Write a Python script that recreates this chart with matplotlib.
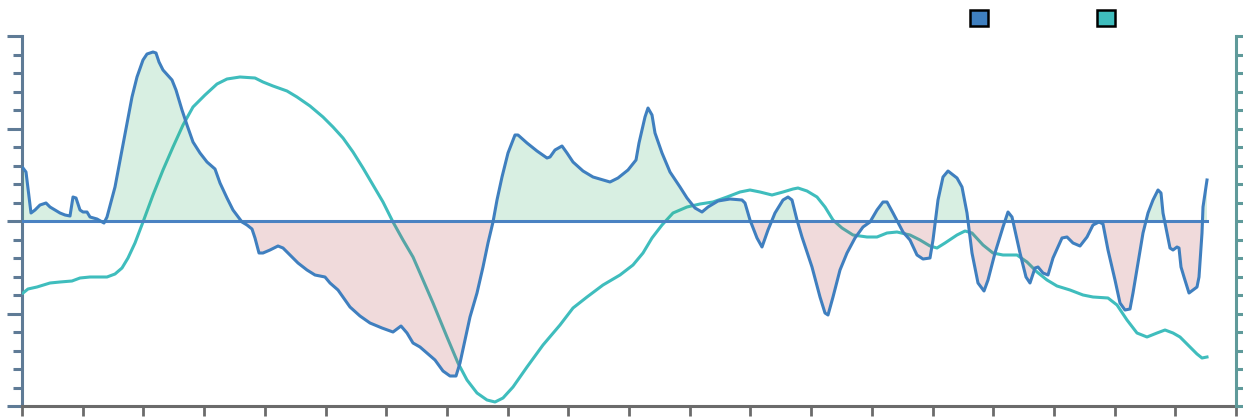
import matplotlib.pyplot as plt
import numpy as np
from matplotlib.patches import Patch

# x: position along the axis (0..1214), y: offset from the zero line (-185..185)
blue_x = [1, 4, 9, 13, 18, 24, 28, 33, 38, 43,
          48, 51, 54, 58, 61, 65, 68, 75, 82, 85,
          93, 100, 105, 110, 115, 121, 125, 131, 134, 137,
          141, 150, 154, 160, 165, 171, 178, 185, 193, 198,
          205, 211, 220, 225, 230, 233, 237, 241, 248, 256,
          261, 268, 276, 285, 293, 303, 308, 316, 328, 338,
          348, 360, 371, 379, 385, 391, 398, 405, 413, 421,
          428, 434, 438, 443, 448, 455, 461, 466, 471, 475,
          480, 486, 493, 496, 505, 515, 525, 528, 533, 540,
          545, 551, 561, 571, 588, 596, 606, 614, 617, 623,
          626, 630, 633, 640, 648, 658, 665, 673, 680, 686,
          696, 708, 720, 723, 728, 735, 740, 746, 753, 761,
          766, 770, 775, 780, 790, 798, 803, 806, 811, 818,
          825, 833, 841, 848, 855, 861, 865, 871, 881, 888,
          895, 901, 908, 911, 916, 921, 926, 935, 940, 945,
          950, 956, 962, 966, 973, 981, 986, 990, 998, 1004,
          1008, 1013, 1016, 1021, 1026, 1031, 1040, 1045, 1051, 1058,
          1065, 1071, 1077, 1081, 1086, 1093, 1098, 1103, 1108, 1111,
          1116, 1121, 1126, 1131, 1136, 1139, 1141, 1145, 1148, 1151,
          1155, 1157, 1159, 1162, 1167, 1171, 1175, 1177, 1180, 1181,
          1185]
blue_y = [53, 49, 8, 11, 16, 18, 14, 11, 8, 6,
          5, 24, 23, 11, 9, 9, 4, 2, -2, 4,
          34, 71, 98, 124, 144, 161, 167, 169, 168, 159,
          151, 141, 131, 111, 96, 79, 68, 59, 52, 38,
          23, 11, -1, -4, -8, -17, -32, -32, -29, -25,
          -27, -34, -42, -49, -54, -56, -62, -69, -86, -95,
          -102, -107, -111, -105, -112, -122, -126, -132, -139, -150,
          -155, -155, -142, -119, -96, -72, -46, -22, -1, 21,
          44, 68, 86, 86, 78, 70, 63, 64, 71, 75,
          68, 59, 50, 44, 39, 43, 51, 61, 78, 104,
          113, 106, 88, 68, 49, 34, 23, 13, 9, 14,
          20, 22, 21, 18, 1, -17, -26, -9, 8, 21,
          24, 21, 1, -16, -46, -76, -92, -94, -76, -49,
          -32, -17, -6, -1, 11, 19, 19, 8, -11, -19,
          -34, -38, -37, -19, 21, 44, 50, 43, 34, 8,
          -32, -62, -70, -59, -32, -6, 9, 4, -32, -56,
          -62, -47, -46, -52, -54, -37, -17, -16, -22, -25,
          -16, -4, -1, -3, -29, -59, -82, -89, -88, -72,
          -42, -12, 8, 21, 31, 28, 8, -12, -27, -29,
          -26, -27, -46, -56, -72, -69, -66, -56, -12, 14,
          41]

teal_x = [1, 6, 15, 28, 38, 50, 58, 68, 85, 93,
          100, 106, 113, 121, 131, 141, 151, 161, 171, 183,
          195, 205, 218, 233, 241, 251, 265, 275, 288, 301,
          311, 321, 331, 341, 351, 361, 371, 381, 391, 398,
          411, 425, 436, 445, 455, 465, 473, 481, 491, 505,
          521, 538, 551, 565, 581, 598, 611, 621, 630, 640,
          651, 665, 678, 691, 705, 718, 728, 738, 750, 761,
          771, 776, 785, 795, 803, 811, 820, 831, 845, 855,
          865, 875, 888, 898, 908, 915, 923, 935, 943, 950,
          961, 971, 981, 995, 1005, 1015, 1025, 1035, 1048, 1061,
          1071, 1086, 1095, 1105, 1115, 1125, 1135, 1143, 1151, 1158,
          1166, 1175, 1180, 1185]
teal_y = [-72, -68, -66, -62, -61, -60, -57, -56, -56, -53,
          -47, -37, -22, -1, 26, 51, 74, 96, 114, 126,
          137, 142, 144, 143, 139, 135, 130, 124, 115, 104,
          94, 83, 69, 53, 36, 19, -1, -19, -36, -52,
          -82, -116, -142, -159, -172, -179, -181, -177, -166, -146,
          -124, -104, -87, -76, -64, -54, -44, -32, -17, -4,
          8, 14, 17, 19, 24, 29, 31, 29, 26, 29,
          32, 33, 30, 24, 14, 1, -7, -14, -16, -16,
          -12, -11, -14, -19, -25, -27, -22, -14, -10, -12,
          -24, -32, -34, -34, -41, -51, -59, -65, -69, -74,
          -76, -77, -84, -99, -112, -116, -112, -109, -112, -116,
          -124, -133, -137, -136]

x_ticks = np.linspace(0, 1214, 21)
y_ticks = np.linspace(-185, 185, 21)
y_major = y_ticks[::5]

blue = '#3f7fbf'
teal = '#3fbdbd'

fig = plt.figure(figsize=(12.43, 4.18), dpi=100)
ax = fig.add_axes([22 / 1243, 12 / 418, 1214 / 1243, 370 / 418])
ax2 = ax.twinx()

ax.set_xlim(0, 1214)
ax.set_ylim(-185, 185)
ax2.set_ylim(-185, 185)

# teal line sits under the fills
ax2.plot(teal_x, teal_y, color=teal, lw=2.2, zorder=1)

bx = np.array(blue_x, dtype=float)
by = np.array(blue_y, dtype=float)
ax2.fill_between(bx, by, 0, where=by >= 0, interpolate=True,
                 color='#3cb371', alpha=0.2, lw=0, zorder=2)
ax2.fill_between(bx, by, 0, where=by <= 0, interpolate=True,
                 color='#b4464b', alpha=0.2, lw=0, zorder=2)
ax2.plot([bx[0], bx[-1]], [0, 0], color='#4a82c2', lw=2.2, zorder=3)
ax2.plot(bx, by, color=blue, lw=2.2, zorder=4, solid_joinstyle='round')

# axes styling
ax.spines['top'].set_visible(False)
ax2.spines['top'].set_visible(False)
ax.spines['right'].set_visible(False)
ax2.spines['left'].set_visible(False)
ax2.spines['bottom'].set_visible(False)

ax.spines['left'].set_color('#5f7b96')
ax.spines['left'].set_linewidth(2.2)
ax.spines['bottom'].set_color('#6b6b6b')
ax.spines['bottom'].set_linewidth(2.2)
ax2.spines['right'].set_color('#5f9a9a')
ax2.spines['right'].set_linewidth(2.2)

ax.set_xticks(x_ticks)
ax.set_xticklabels([])
ax.tick_params(axis='x', direction='out', length=7.5, width=2, color='#6b6b6b')

ax.set_yticks(y_major)
ax.set_yticks(y_ticks, minor=True)
ax.set_yticklabels([])
ax.tick_params(axis='y', which='major', direction='out', length=10.5, width=2.2, color='#5f7b96')
ax.tick_params(axis='y', which='minor', direction='out', length=6.5, width=2.2, color='#5f7b96')

ax2.set_yticks(y_ticks)
ax2.set_yticklabels([])
ax2.tick_params(axis='y', direction='out', length=5.5, width=2.2, color='#5f9a9a')

handles = [Patch(facecolor=blue, edgecolor='black', lw=1.8),
           Patch(facecolor=teal, edgecolor='black', lw=1.8)]
fig.legend(handles, ['', ''], loc='center', bbox_to_anchor=(1042.5 / 1243, 1 - 19 / 418),
           ncol=2, frameon=False, fontsize=13, handlelength=1.0, handleheight=1.0,
           handletextpad=0, columnspacing=6.0)

fig.savefig('out.png', dpi=100)
